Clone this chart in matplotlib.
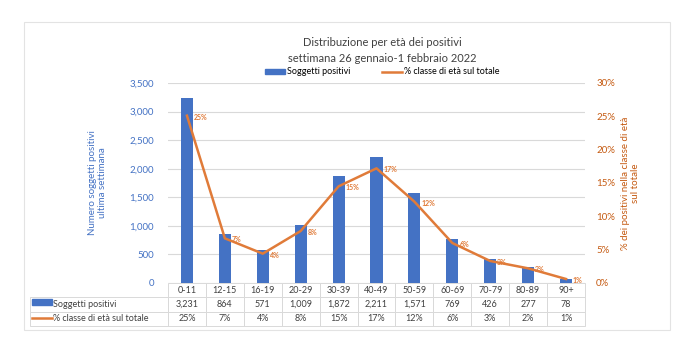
import matplotlib.pyplot as plt
from matplotlib.patches import Rectangle
from matplotlib.lines import Line2D

plt.rcParams['font.family'] = ['Lato', 'DejaVu Sans']

# dati
age_classes = ['0-11', '12-15', '16-19', '20-29', '30-39', '40-49',
               '50-59', '60-69', '70-79', '80-89', '90+']
positivi = [3231, 864, 571, 1009, 1872, 2211, 1571, 769, 426, 277, 78]
pct_totale = [25.1, 6.7, 4.4, 7.8, 14.5, 17.2, 12.2, 6.0, 3.3, 2.2, 0.6]
pct_labels = ['25%', '7%', '4%', '8%', '15%', '17%', '12%', '6%', '3%', '2%', '1%']

BLUE = '#4472C4'
ORANGE = '#E07B39'
ORANGE_TXT = '#C55A11'
GRID = '#D9D9D9'

fig = plt.figure(figsize=(6.8, 3.43), dpi=100)

# cornice esterna
fig.patches.append(Rectangle((24 / 680, 1 - 330 / 343), 646 / 680, 308 / 343,
                             transform=fig.transFigure, fill=False,
                             edgecolor='#E3E3E3', linewidth=0.8))

ax = fig.add_axes([168 / 680, 1 - 283 / 343, 417 / 680, 200 / 343])
x = list(range(len(age_classes)))

ax.bar(x, positivi, width=0.32, color=BLUE, zorder=2)
ax.set_xlim(-0.5, len(age_classes) - 0.5)
ax.set_ylim(0, 3500)
ax.set_yticks(range(0, 3501, 500))
ax.set_yticklabels([f'{v:,}' for v in range(0, 3501, 500)], color=BLUE, fontsize=7)
ax.set_xticks([])
ax.grid(axis='y', color=GRID, linewidth=0.8, zorder=0)
ax.tick_params(axis='y', length=0, pad=10)
for s in ax.spines.values():
    s.set_visible(False)
ax.set_ylabel('Numero soggetti positivi\nultima settimana', color=BLUE,
              fontsize=7, labelpad=16)

# asse destro con le percentuali
ax2 = ax.twinx()
ax2.plot(x, [v / 100 for v in pct_totale], color=ORANGE, linewidth=1.8, zorder=3)
ax2.set_ylim(0, 0.30)
ax2.set_yticks([i * 0.05 for i in range(7)])
ax2.set_yticklabels([f'{i * 5}%' for i in range(7)], color=ORANGE_TXT, fontsize=7)
ax2.tick_params(axis='y', length=0, pad=8)
for s in ax2.spines.values():
    s.set_visible(False)
ax2.set_ylabel('% dei positivi nella classe di età\nsul totale', color=ORANGE_TXT,
               fontsize=7, labelpad=4)
for xi, v, lab in zip(x, pct_totale, pct_labels):
    ax2.annotate(lab, (xi, v / 100), xytext=(5, -1), textcoords='offset points',
                 fontsize=5, color=ORANGE, va='center', ha='left',
                 fontweight='bold', zorder=5)

# titolo e legenda
fig.text(0.562, 1 - 42 / 343, 'Distribuzione per età dei positivi',
         ha='center', va='center', fontsize=8, color='#404040')
fig.text(0.562, 1 - 58 / 343, 'settimana 26 gennaio-1 febbraio 2022',
         ha='center', va='center', fontsize=8, color='#404040')
handles = [Rectangle((0, 0), 1, 1, color=BLUE),
           Line2D([], [], color=ORANGE, linewidth=1.8)]
fig.legend(handles, ['Soggetti positivi', '% classe di età sul totale'],
           loc='center', bbox_to_anchor=(0.562, 1 - 72 / 343), ncol=2,
           frameon=False, fontsize=6.5, handlelength=2.2, handletextpad=0.2,
           columnspacing=3.5, handleheight=0.5)

# tabella dati sotto il grafico
cell_text = [[''] + age_classes,
             ['Soggetti positivi'] + [f'{v:,}' for v in positivi],
             ['% classe di età sul totale'] + pct_labels]
label_w = 138 / 555
col_w = [label_w] + [(1 - label_w) / len(age_classes)] * len(age_classes)
tab = ax.table(cellText=cell_text, colWidths=col_w, cellLoc='center',
               bbox=[-138 / 417, -43 / 200, 555 / 417, 43 / 200])
tab.auto_set_font_size(False)
tab.set_fontsize(6.5)
for (r, c), cell in tab.get_celld().items():
    cell.set_edgecolor(GRID)
    cell.set_linewidth(0.7)
    cell.get_text().set_color('#404040')
    if c == 0:
        cell._loc = 'left'
        cell.PAD = 0.17
        cell.get_text().set_horizontalalignment('left')
    if r == 0 and c == 0:
        cell.visible_edges = ''

# marcatori di legenda nella tabella
ax.add_patch(Rectangle((-136 / 417, -22 / 200), 20 / 417, 6 / 200,
                       transform=ax.transAxes, color=BLUE, clip_on=False))
ax.add_line(Line2D([-136 / 417, -116 / 417], [-35 / 200, -35 / 200],
                   transform=ax.transAxes, color=ORANGE, linewidth=1.8,
                   clip_on=False))

fig.savefig('out.png', dpi=100, facecolor='white')
